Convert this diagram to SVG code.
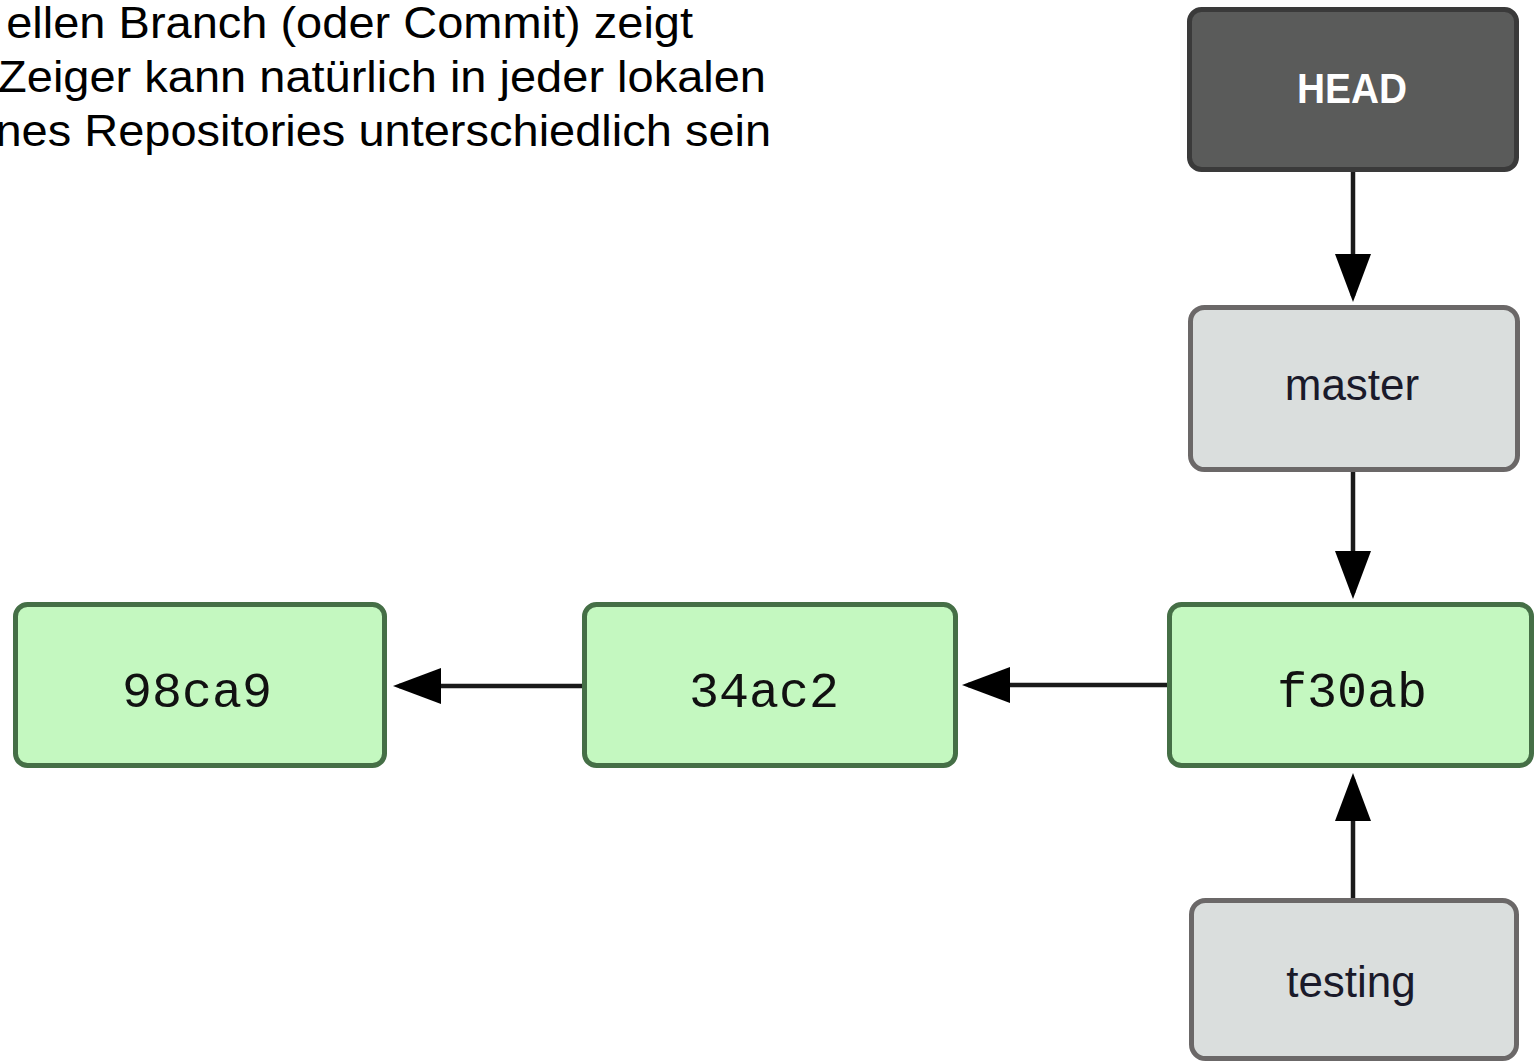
<svg xmlns="http://www.w3.org/2000/svg" width="1535" height="1061" viewBox="0 0 1535 1061">
  <style>
    .caption { font-family: "Liberation Sans", Arial, sans-serif; font-size: 44px; fill: #000; }
    .head rect { fill: #5a5b5a; stroke: #3a3a3a; stroke-width: 5; }
    .branch rect { fill: #dadedd; stroke: #6b6868; stroke-width: 5; }
    .commit rect { fill: #c4f8c0; stroke: #456f46; stroke-width: 5; }
    .lbl { font-family: "Liberation Sans", Arial, sans-serif; font-size: 44px; fill: #1a1a2a; text-anchor: middle; }
    .headlbl { font-family: "Liberation Sans", Arial, sans-serif; font-size: 42px; font-weight: bold; fill: #ffffff; text-anchor: middle; }
    .sha { font-family: "Liberation Mono", "Courier New", monospace; font-size: 50px; fill: #111; text-anchor: middle; }
    .conn line { stroke: #1a1a1a; stroke-width: 4.5; fill: none; marker-end: url(#arrow); }
  </style>
  <defs>
    <marker id="arrow" viewBox="0 0 48 36" refX="42" refY="18" markerWidth="48" markerHeight="36" markerUnits="userSpaceOnUse" orient="auto">
      <path d="M0,0 L48,18 L0,36 z" fill="#000"/>
    </marker>
  </defs>
  <rect width="1535" height="1061" fill="#ffffff"/>

  <g id="caption" transform="scale(1.068 1)">
    <text class="caption" x="648.9" y="38" text-anchor="end">ellen Branch (oder Commit) zeigt</text>
    <text class="caption" x="717.2" y="92" text-anchor="end">Zeiger kann natürlich in jeder lokalen</text>
    <text class="caption" x="722" y="146" text-anchor="end">nes Repositories unterschiedlich sein</text>
  </g>

  <g id="connectors" class="conn">
    <line x1="1353" y1="170" x2="1353" y2="296"/>
    <line x1="1353" y1="470" x2="1353" y2="593"/>
    <line x1="1353" y1="900" x2="1353" y2="779"/>
    <line x1="1169" y1="685" x2="968" y2="685"/>
    <line x1="584" y1="686" x2="399" y2="686"/>
  </g>

  <g id="node-head" class="head">
    <rect x="1189.5" y="9.5" width="327" height="160" rx="12"/>
    <text class="headlbl" x="1352" y="103" textLength="110" lengthAdjust="spacingAndGlyphs">HEAD</text>
  </g>
  <g id="node-master" class="branch">
    <rect x="1190.5" y="307.5" width="327" height="162" rx="14"/>
    <text class="lbl" x="1352" y="400">master</text>
  </g>
  <g id="node-testing" class="branch">
    <rect x="1191.5" y="900.5" width="325" height="158" rx="14"/>
    <text class="lbl" x="1351" y="997">testing</text>
  </g>
  <g id="node-98ca9" class="commit">
    <rect x="15.5" y="604.5" width="369" height="161" rx="12"/>
    <text class="sha" x="197" y="707">98ca9</text>
  </g>
  <g id="node-34ac2" class="commit">
    <rect x="584.5" y="604.5" width="371" height="161" rx="12"/>
    <text class="sha" x="764" y="707">34ac2</text>
  </g>
  <g id="node-f30ab" class="commit">
    <rect x="1169.5" y="604.5" width="362" height="161" rx="12"/>
    <text class="sha" x="1352" y="707">f30ab</text>
  </g>
</svg>
